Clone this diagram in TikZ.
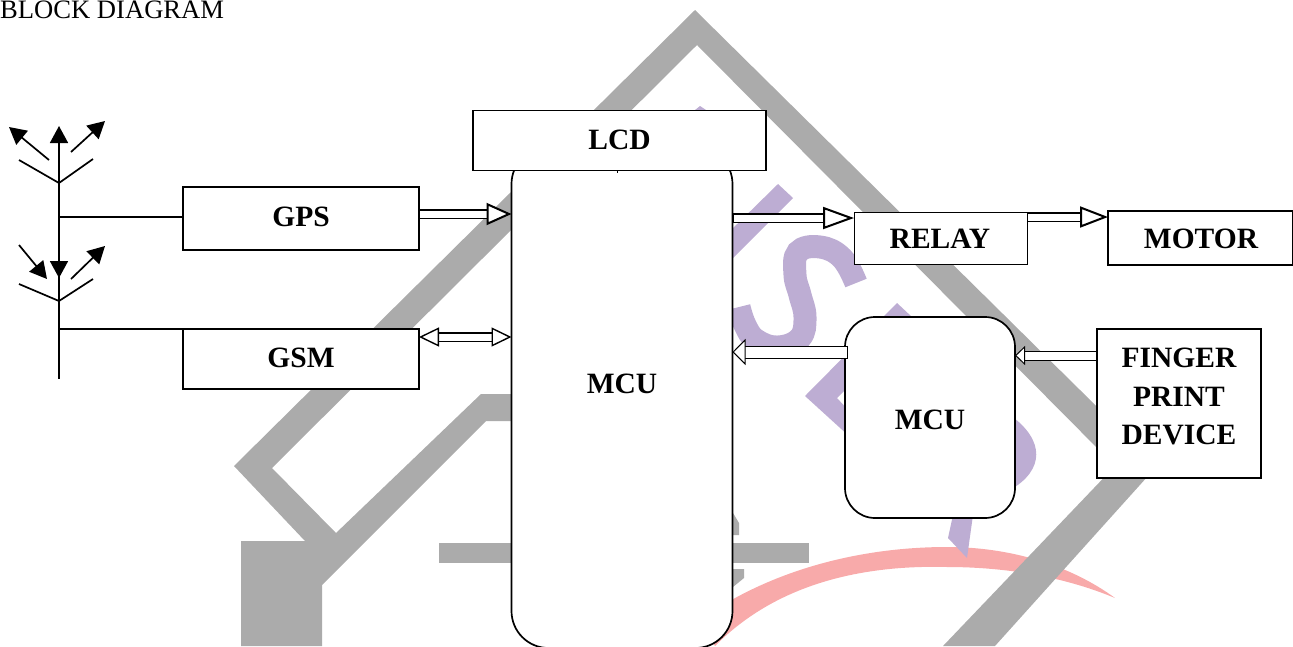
\documentclass[tikz,border=0pt]{standalone}
\usepackage{fontspec}
\setmainfont{Liberation Serif}
\usepackage{xcolor}
\usepackage{tikz}
\usetikzlibrary{arrows.meta}
\definecolor{markgrey}{RGB}{171,171,171}
\definecolor{markviolet}{RGB}{189,173,211}
\definecolor{markpink}{RGB}{248,170,170}
\tikzset{
  blk/.style   ={draw=black, fill=white, line width=1.7pt, outer sep=0pt, inner sep=0pt,
                 align=center, font=\fontsize{29.5}{38.5}\selectfont\bfseries},
  rblk/.style  ={blk, rounded corners=30pt},
  lab/.style   ={align=center, inner sep=0pt, font=\fontsize{29.5}{38.5}\selectfont\bfseries},
  wire/.style  ={draw=black, line width=1.7pt},
  ray/.style   ={wire, -{Triangle[length=17pt,width=18pt]}},
  ar/.style    ={draw=black, double=white, line width=1.7pt, double distance=7pt,
                 {Bar[width=10.5pt,line width=1pt]}-{Triangle[open,fill=white,length=25pt,width=22pt,line width=2pt]}},
  thinar/.style={draw=black, double=white, line width=1pt, double distance=11pt,
                 {Bar[width=13pt,line width=1pt]}-{Triangle[open,fill=white,length=13pt,width=26pt,line width=1pt]}},
}
\begin{document}
\begin{tikzpicture}[x=1pt,y=-1pt]
\clip (0,0) rectangle (1293,646);
% watermark
\fill[markpink] (700,620) .. controls (770,570) and (860,547) .. (947,547)
   .. controls (1010,547) and (1070,565) .. (1115,598)
   .. controls (1060,575) and (1000,567) .. (947,567)
   .. controls (870,565) and (780,580) .. (715,646) -- cycle;
\fill[markgrey] (241,541) -- (305,541) -- (234,466) -- (695,10) -- (1157,466) -- (995,646)
   -- (943,646) -- (1115,466) -- (697,45) -- (272,468) -- (336,533) -- (481,394) -- (560,394)
   -- (560,421) -- (486,421) -- (322,585) -- (322,646) -- (241,646) -- cycle;
\fill[markgrey] (439,543) rectangle (809,563);
\fill[markgrey] (725,513) -- (733,513) -- (739,523) -- (739,535) -- (725,535) -- cycle;
\fill[markgrey] (725,569) -- (744,569) -- (744,578) -- (733,587) -- (725,587) -- cycle;
\fill[markviolet] (725,236) -- (778,184) -- (793,198) -- (725,266) -- cycle;
\fill[markviolet] (695,110) -- (700,106) -- (706,110) -- cycle;
\draw[markviolet,line width=23pt] plot[smooth,tension=0.7] coordinates
   {(856,283) (842,258) (820,247) (798,252) (795,275) (800,295) (805,317) (800,338) (778,347) (756,340) (745,325) (739,307)};
\fill[markviolet] (805,396) -- (897,303) -- (912,317) -- (850,385) -- (837,398) -- (850,412) -- (850,437) -- cycle;
\fill[markviolet] (1010,415) .. controls (1045,440) and (1045,470) .. (1010,490) -- cycle;
\fill[markviolet] (953,515) -- (973,515) -- (967,558) -- (948,538) -- cycle;
% title
\node[anchor=base west,inner sep=0pt,font=\fontsize{26.6}{30}\selectfont] (title) at (0,18.5) {BLOCK DIAGRAM};
% blocks
\node[blk,minimum width=221pt,minimum height=501pt,rounded corners=37pt] (mcu) at (622,397.5) {};
\node[lab] (mcutxt) at (622,384) {MCU};
\node[blk,minimum width=293pt,minimum height=60pt] (lcd) at (619.5,140.5) {};
\node[lab] (lcdtxt) at (619.5,140) {LCD};
\node[blk,minimum width=236pt,minimum height=63pt] (gps) at (301,218.5) {};
\node[lab] (gpstxt) at (301,217) {GPS};
\node[blk,minimum width=236pt,minimum height=60pt] (gsm) at (301,359) {};
\node[lab] (gsmtxt) at (301,358) {GSM};
\node[blk,line width=0.9pt,minimum width=173pt,minimum height=52pt] (relay) at (940.5,238) {};
\node[lab] (relaytxt) at (940,239) {RELAY};
\node[blk,minimum width=185pt,minimum height=54pt] (motor) at (1200.5,238) {};
\node[lab] (motortxt) at (1201,239) {MOTOR};
\node[rblk,minimum width=170pt,minimum height=201pt] (ctrl) at (930,417.5) {};
\node[lab] (ctrltxt) at (930,420) {MCU};
\node[blk,minimum width=164pt,minimum height=149pt] (finger) at (1179,403.5) {};
\node[lab] (fingertxt) at (1179,396.5) {FINGER\\PRINT\\DEVICE};
% antennas
\coordinate (upfoot) at (59,183);
\coordinate (mastend) at (59,379);
\coordinate (gpstap) at (59,217);
\coordinate (gsmtap) at (59,329);
\draw[wire] (upfoot) -- (mastend);
\draw[ray] (upfoot) -- (59,126);
\draw[ray] (59,237) -- (59,278);
\foreach \ax/\ay/\bx/\by in {49/160/9/127, 71/152/105/121, 19/245/47/279, 71/279/105/246}{
  \draw[ray] (\ax,\ay) -- (\bx,\by);
}
\foreach \fy/\ly/\ry in {183/160/159, 301/284/279}{
  \draw[wire] (19,\ly) -- (59,\fy) -- (93,\ry);
}
\draw[wire] (gpstap) -- (gpstap -| gps.west);
\draw[wire] (gsmtap) -- (gsm.north west);
% links
\draw[ar] ([yshift=4.5pt]gps.east) -- ([yshift=183.5pt]mcu.west);
\draw[ar,{Triangle[open,fill=white,length=20pt,width=19pt,line width=1.4pt]}-{Triangle[open,fill=white,length=20pt,width=19pt,line width=1.4pt]},
   line width=1.2pt] ([yshift=22pt]gsm.east) -- ([yshift=60.5pt]mcu.west);
\draw[ar,{Bar[width=10.5pt,line width=1pt]}-{Triangle[open,fill=white,length=31pt,width=22pt,line width=2pt]}]
   ([yshift=179.5pt]mcu.east) -- ([yshift=20pt]relay.west);
\draw[ar,{Bar[width=10.5pt,line width=1pt]}-{Triangle[open,fill=white,length=28pt,width=21pt,line width=2pt]}]
   ([yshift=21pt]relay.east) -- ([yshift=21pt]motor.west);
\draw[thinar] ([xshift=3pt,yshift=65.5pt]ctrl.west) -- ([yshift=45.5pt]mcu.east);
\draw[thinar,double distance=8pt,{Bar[width=10pt,line width=1pt]}-{Triangle[open,fill=white,length=10pt,width=19pt,line width=1pt]}]
   ([yshift=48pt]finger.west) -- ([yshift=62pt]ctrl.east);
\draw[wire,line width=1pt] (lcd.south) ++(-2,0) coordinate (lcdtick) -- ++(0,2);
\end{tikzpicture}
\end{document}
